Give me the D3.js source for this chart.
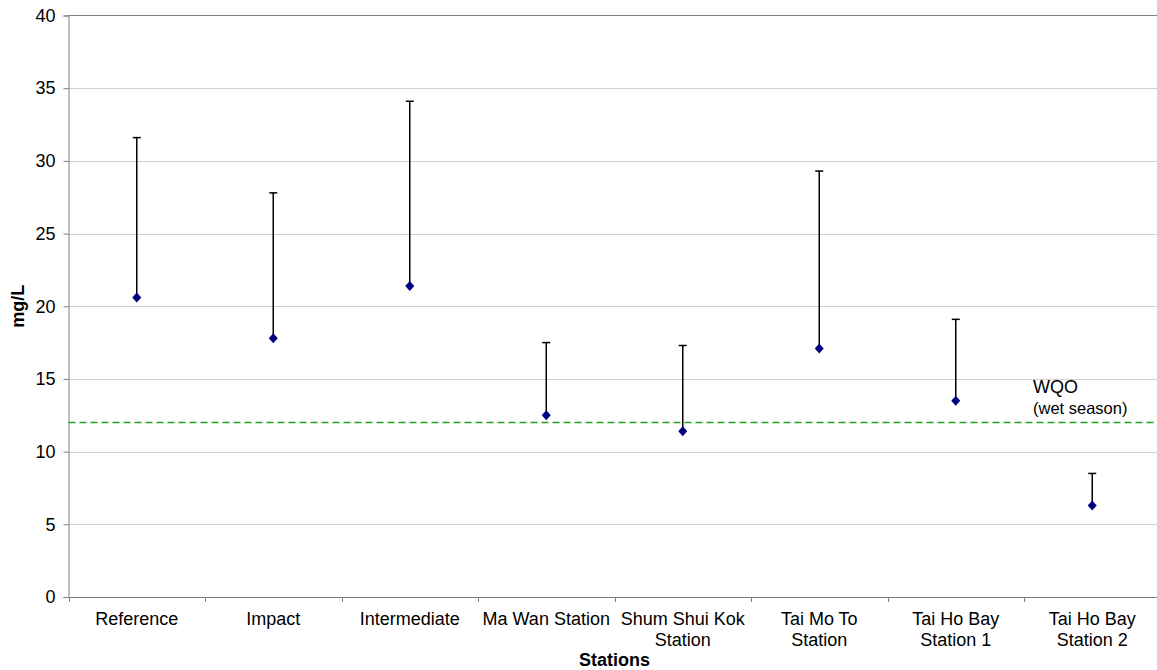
<!DOCTYPE html>
<html><head><meta charset="utf-8">
<script src="https://cdn.jsdelivr.net/npm/d3@7"></script>
<style>body{margin:0;background:#fff;} text{font-family:Arial,"Liberation Sans",sans-serif;}</style>
</head><body>
<svg id="c" width="1157" height="670"></svg>
<script>
const categories = ["Reference","Impact","Intermediate","Ma Wan Station","Shum Shui Kok\nStation","Tai Mo To\nStation","Tai Ho Bay\nStation 1","Tai Ho Bay\nStation 2"];
const meanValues = [20.6, 17.8, 21.4, 12.5, 11.4, 17.1, 13.5, 6.3];
const upperValues = [31.6, 27.8, 34.1, 17.5, 17.3, 29.3, 19.1, 8.5];
const wqo = 12;
const yTicks = [0,5,10,15,20,25,30,35,40];

const svg = d3.select("#c");
const m = {l:68.5, t:15.5, b:597, r:1160.5};
const x = d3.scaleBand().domain(categories).range([m.l, m.r]).padding(0);
const y = d3.scaleLinear().domain([0,40]).range([m.b, m.t]);

// gridlines
svg.append("g").selectAll("line").data(yTicks.filter(d=>d>0&&d<40)).join("line")
  .attr("x1", m.l).attr("x2", m.r).attr("y1", d=>Math.round(y(d))+0.5).attr("y2", d=>Math.round(y(d))+0.5)
  .attr("stroke","#cfcfcf").attr("stroke-width",1);
// top border
svg.append("line").attr("x1",m.l).attr("x2",m.r).attr("y1",m.t).attr("y2",m.t).attr("stroke","#808080");

// y axis
const ya = svg.append("g").attr("transform",`translate(${m.l},0)`)
  .call(d3.axisLeft(y).tickValues(yTicks).tickSize(5).tickPadding(8));
ya.select(".domain").attr("stroke","#808080");
ya.selectAll(".tick line").attr("stroke","#808080");
ya.selectAll(".tick text").attr("font-size",18).attr("fill","#000").attr("font-family","Arial, 'Liberation Sans', sans-serif");

// x axis
const xa = svg.append("g").attr("transform",`translate(0,${m.b})`)
  .call(d3.axisBottom(x).tickSize(0).tickFormat(""));
xa.select(".domain").attr("stroke","#808080");
xa.selectAll(".tick").remove();
const bounds = categories.map(c=>x(c)).concat([m.r]);
svg.append("g").selectAll("line").data(bounds).join("line")
  .attr("x1",d=>Math.round(d)+0.5).attr("x2",d=>Math.round(d)+0.5).attr("y1",m.b).attr("y2",m.b+5).attr("stroke","#808080");

// x labels
const lbl = svg.append("g").selectAll("text").data(categories).join("text")
  .attr("x", d=>x(d)+x.bandwidth()/2).attr("y", 625).attr("text-anchor","middle")
  .attr("font-size",18).attr("fill","#000");
lbl.each(function(d){
  const lines = d.split("\n");
  d3.select(this).selectAll("tspan").data(lines).join("tspan")
    .attr("x", x(d)+x.bandwidth()/2).attr("dy",(l,i)=>i===0?0:21).text(l=>l);
});

// titles
svg.append("text").attr("x", (m.l+m.r)/2).attr("y", 666).attr("text-anchor","middle")
  .attr("font-size",18).attr("font-weight","bold").text("Stations");
svg.append("text").attr("transform",`translate(24,${(m.t+m.b)/2}) rotate(-90)`).attr("text-anchor","middle")
  .attr("font-size",18).attr("font-weight","bold").text("mg/L");

// WQO line
svg.append("line").attr("x1",m.l).attr("x2",m.r).attr("y1",y(wqo)).attr("y2",y(wqo))
  .attr("stroke","#22a022").attr("stroke-width",1.6).attr("stroke-dasharray","7,4");
svg.append("text").attr("x",1033).attr("y",393).attr("font-size",18).text("WQO");
svg.append("text").attr("x",1033).attr("y",414).attr("font-size",16.5).text("(wet season)");

// error bars
const data = categories.map((c,i)=>({c, v:meanValues[i], u:upperValues[i]}));
const g = svg.append("g");
g.selectAll("line.bar").data(data).join("line").attr("class","bar")
  .attr("x1",d=>x(d.c)+x.bandwidth()/2).attr("x2",d=>x(d.c)+x.bandwidth()/2)
  .attr("y1",d=>y(d.v)).attr("y2",d=>y(d.u)).attr("stroke","#000").attr("stroke-width",1.5);
g.selectAll("line.cap").data(data).join("line").attr("class","cap")
  .attr("x1",d=>x(d.c)+x.bandwidth()/2-4).attr("x2",d=>x(d.c)+x.bandwidth()/2+4)
  .attr("y1",d=>y(d.u)).attr("y2",d=>y(d.u)).attr("stroke","#000").attr("stroke-width",1.5);
// markers
g.selectAll("path.pt").data(data).join("path").attr("class","pt")
  .attr("transform",d=>`translate(${x(d.c)+x.bandwidth()/2},${y(d.v)})`)
  .attr("d","M0,-5L4.5,0L0,5L-4.5,0Z").attr("fill","#000080");
</script>
</body></html>
